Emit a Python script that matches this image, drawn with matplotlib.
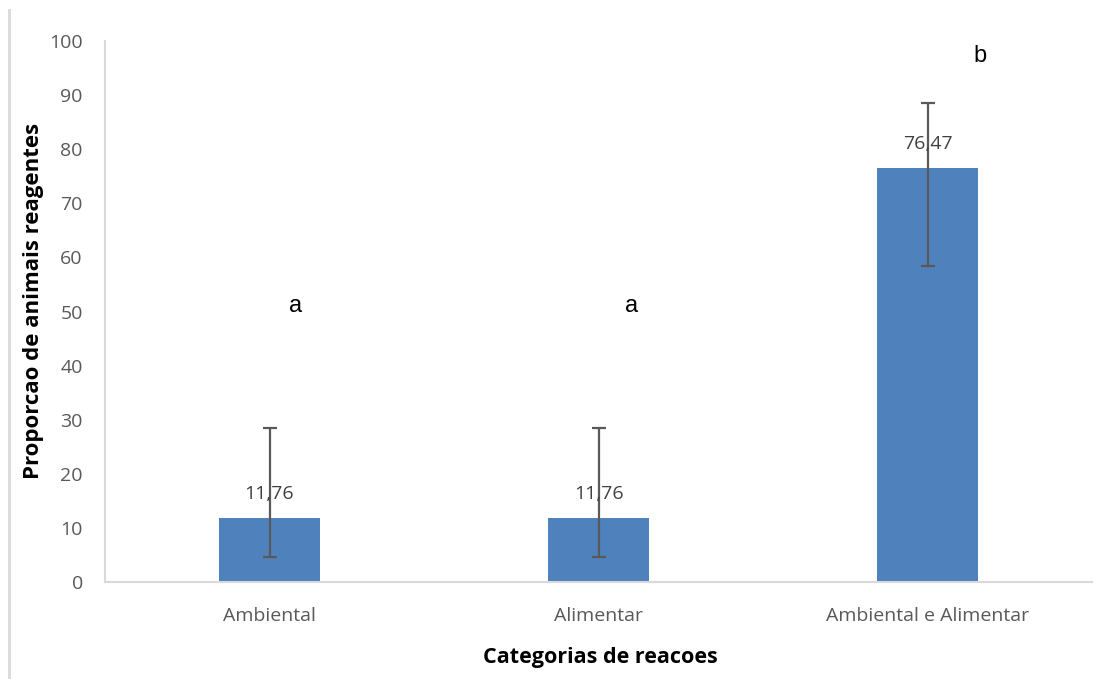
import matplotlib
matplotlib.use("Agg")
import matplotlib.pyplot as plt
import numpy as np
from matplotlib.lines import Line2D

categorias = ["Ambiental", "Alimentar", "Ambiental e Alimentar"]
valores = [11.76, 11.76, 76.47]
rotulos = ["11,76", "11,76", "76,47"]
erro_inf = [4.6, 4.6, 58.4]
erro_sup = [28.4, 28.4, 88.6]
letras = ["a", "a", "b"]
letras_y = [51, 51, 97.3]

cor_barra = "#4f81bd"
cinza = "#595959"

fig = plt.figure(figsize=(11.2, 6.79), dpi=100)
ax = fig.add_axes([0.09375, 0.1428, 0.88125, 0.7968])

x = np.arange(len(categorias))
v = np.array(valores)
yerr = [v - np.array(erro_inf), np.array(erro_sup) - v]
ax.bar(x, v, width=0.31, color=cor_barra, zorder=2)
ax.errorbar(x, v, yerr=yerr, fmt="none", ecolor=cinza, elinewidth=1.6,
            capsize=5, capthick=1.6, zorder=3)

for xi, vi, r in zip(x, v, rotulos):
    ax.annotate(r, (xi, vi), xytext=(0, 11), textcoords="offset points",
                ha="center", va="bottom", fontsize=14, color="#404040",
                family="Open Sans")

offs = [0.08, 0.1, 0.16]
for xi, l, ly, o in zip(x, letras, letras_y, offs):
    ax.text(xi + o, ly, l, ha="center", va="center", fontsize=17,
            family="Liberation Sans", color="black")

ax.set_xlim(-0.5, 2.5)
ax.set_ylim(0, 100)
ax.set_yticks(range(0, 101, 10))
ax.set_xticks(x)
ax.set_xticklabels(categorias)
ax.tick_params(length=0, labelsize=14, labelcolor=cinza)
ax.tick_params(axis="x", pad=18)
ax.tick_params(axis="y", pad=16)
for lab in ax.get_xticklabels() + ax.get_yticklabels():
    lab.set_family("Open Sans")

for s in ["top", "right"]:
    ax.spines[s].set_visible(False)
for s in ["left", "bottom"]:
    ax.spines[s].set_color("#d9d9d9")
    ax.spines[s].set_linewidth(1.5)

ax.set_xlabel("Categorias de reacoes", fontsize=15.5, fontweight="bold",
              family="Open Sans")
ax.xaxis.set_label_coords(0.5015, -0.14)
ax.xaxis.label.set_va("center")
ax.set_ylabel("Proporcao de animais reagentes", fontsize=16, fontweight="bold",
              family="Open Sans")
ax.yaxis.set_label_coords(-0.072, 0.52)
ax.yaxis.label.set_va("center")

fig.add_artist(Line2D([9 / 1120, 9 / 1120], [0, 1 - 10 / 679],
                      transform=fig.transFigure, color="#d9d9d9", lw=2))

fig.savefig("out.png", dpi=100, facecolor="white")
